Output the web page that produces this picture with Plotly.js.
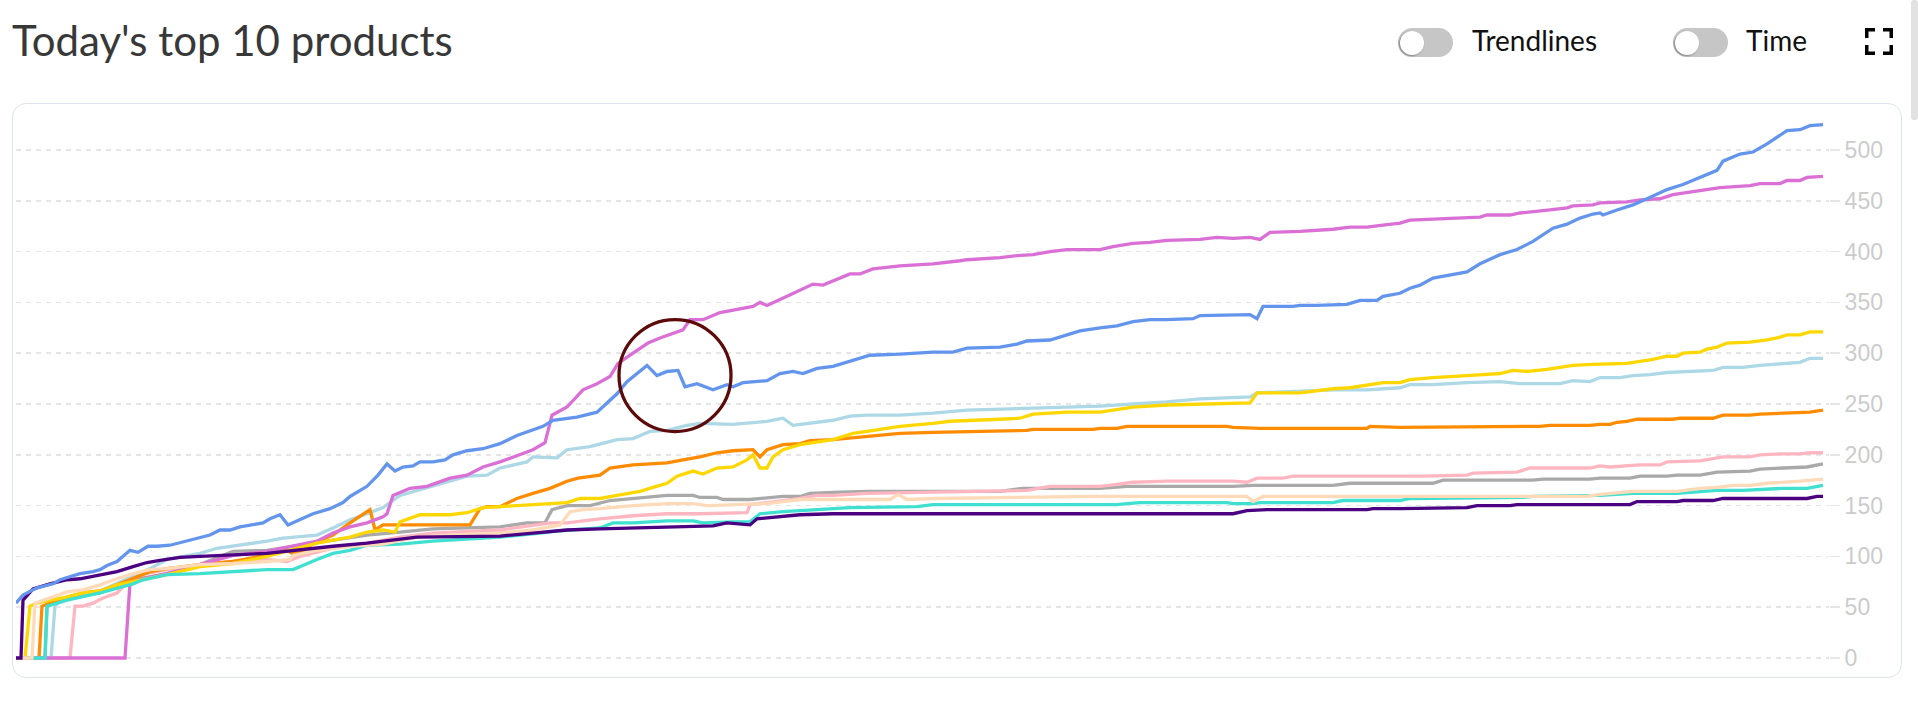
<!DOCTYPE html>
<html>
<head>
<meta charset="utf-8">
<script src="https://cdn.plot.ly/plotly-3.0.1.min.js"></script>
<style>
html,body{margin:0;padding:0;background:#fff;width:1918px;height:719px;overflow:hidden;}
#card{position:absolute;left:12px;top:103px;width:1890px;height:575px;box-sizing:border-box;border:1.5px solid #dde4ee;border-radius:14px;}
#chart{position:absolute;left:0;top:0;width:1918px;height:719px;}
.track{position:absolute;top:28px;width:55px;height:29px;border-radius:15px;background:#c6c6c6;}
.knob{position:absolute;left:2px;top:2.5px;width:24px;height:24px;border-radius:50%;background:#fff;box-shadow:-1px 1px 2px rgba(0,0,0,0.35);}
.lbl{position:absolute;top:26px;font-family:Lato,sans-serif;font-size:28px;line-height:28px;color:#111;white-space:nowrap;}
#scroll{position:absolute;left:1911px;top:0;width:7px;height:120px;background:#e2e2e2;border-radius:3px;}
</style>
</head>
<body>
<div id="card"></div>
<div id="chart"></div>
<div class="track" style="left:1398px"><div class="knob"></div></div>
<div class="lbl" style="left:1472px">Trendlines</div>
<div class="track" style="left:1673px"><div class="knob"></div></div>
<div class="lbl" style="left:1746px">Time</div>
<svg style="position:absolute;left:1863px;top:26px" width="32" height="32" viewBox="0 0 32 32">
  <g fill="none" stroke="#000" stroke-width="3.5" stroke-linecap="butt">
    <path d="M3.75 12 V3.75 H12"/>
    <path d="M20 3.75 H28.25 V12"/>
    <path d="M3.75 19 V27.25 H12"/>
    <path d="M20 27.25 H28.25 V19"/>
  </g>
</svg>
<div id="scroll"></div>
<script>
// ---- data (elapsed time units, cumulative units sold) ----
const yTicks = [0, 50, 100, 150, 200, 250, 300, 350, 400, 450, 500];

const blueT = [0,7,21,37,44,51,64,77,84,91,101,114,122,132,141,154,166,184,194,204,214,224,241,247,254,264,272,284,297,314,327,334,351,362,371,379,387,397,404,417,429,437,451,467,484,501,527,537,561,581,591,601,611,624,631,641,651,662,669,681,697,711,717,727,751,764,777,787,801,817,834,854,884,917,937,951,984,1001,1011,1034,1051,1064,1084,1101,1117,1134,1151,1177,1184,1234,1241,1247,1277,1284,1301,1331,1344,1361,1367,1384,1394,1404,1417,1434,1451,1464,1484,1501,1517,1537,1551,1564,1577,1584,1587,1601,1617,1631,1651,1667,1684,1701,1707,1724,1737,1751,1771,1784,1794,1807];
const blueV = [54,62,69,73,77,79,83,85,87,91,95,106,104,110,110,111,114,119,121,126,126,129,132,133,137,141,131,136,142,147,153,159,169,180,191,184,188,189,193,193,195,200,204,206,211,219,228,234,237,242,251,260,272,282,288,278,282,283,267,270,264,269,267,271,273,280,282,280,285,287,292,298,299,301,301,305,306,309,312,313,318,322,325,327,331,333,333,334,337,338,334,346,346,347,347,348,352,352,356,359,364,367,374,377,380,388,397,402,410,423,427,433,437,438,436,441,446,452,461,466,473,480,489,496,498,506,519,520,524,525];

const orchidT = [0,109,114,127,151,184,201,217,251,267,284,301,317,334,351,367,371,377,394,411,434,451,467,484,517,529,536,551,567,581,594,602,617,632,644,657,667,674,687,704,737,744,751,771,797,807,834,844,857,884,917,944,951,984,1001,1017,1034,1051,1084,1097,1117,1134,1151,1184,1201,1217,1234,1244,1254,1284,1301,1317,1334,1351,1367,1384,1394,1424,1434,1464,1471,1494,1504,1517,1534,1551,1557,1577,1584,1611,1624,1644,1657,1677,1691,1704,1734,1744,1764,1771,1784,1791,1807];
const orchidV = [0,0,74,78,83,92,97,101,105,108,111,115,123,129,133,139,142,160,167,169,177,180,188,193,205,212,239,247,264,270,277,290,300,310,315,320,323,333,333,340,346,350,347,356,368,367,378,378,383,386,388,391,392,394,396,397,400,402,402,405,408,409,411,412,414,413,414,412,419,420,421,422,424,424,426,428,431,432,433,434,436,436,438,439,441,443,445,446,448,449,451,452,456,459,461,463,465,467,467,470,470,473,474];

const goldT = [0,9,14,21,34,51,67,84,101,117,127,151,184,217,251,277,301,317,334,351,367,379,384,404,434,451,461,467,484,517,551,564,584,601,624,637,651,661,677,687,701,717,731,737,744,751,757,767,784,817,837,851,884,917,934,984,1004,1017,1051,1084,1117,1151,1184,1217,1234,1241,1284,1317,1334,1367,1384,1394,1417,1451,1484,1497,1511,1531,1544,1557,1577,1611,1624,1637,1651,1661,1667,1684,1691,1701,1711,1734,1751,1761,1771,1784,1794,1807];
const goldV = [0,0,51,54,57,60,64,66,72,75,77,82,90,93,100,107,113,116,119,124,126,124,134,141,141,143,146,148,149,151,153,157,157,160,164,168,172,179,184,181,187,188,195,200,187,187,198,205,210,215,221,223,228,231,233,235,236,240,242,242,247,249,250,251,251,261,261,265,266,271,271,274,276,278,280,283,282,284,286,288,289,290,292,294,297,297,300,301,304,306,310,311,313,315,318,318,321,321];

const lightblueT = [0,35,39,51,84,117,134,151,167,184,201,217,251,267,301,317,334,351,367,384,401,434,451,471,484,511,517,541,551,574,601,617,634,651,671,684,717,751,767,777,817,834,851,884,917,951,984,1017,1051,1084,1117,1151,1184,1217,1234,1241,1284,1317,1351,1384,1394,1417,1451,1484,1504,1544,1557,1574,1584,1604,1617,1634,1651,1671,1697,1707,1727,1744,1761,1784,1794,1807];
const lightblueV = [0,0,52,59,66,80,88,97,100,103,108,110,115,118,121,128,136,142,148,160,165,174,179,180,187,193,198,197,205,208,215,216,223,224,229,231,230,233,236,229,234,238,239,239,241,244,245,246,247,248,250,252,255,256,257,261,263,264,264,266,269,269,271,272,270,270,273,272,276,276,278,279,281,282,283,286,286,288,289,291,295,295];

const orangeT = [0,23,26,34,51,67,84,101,117,134,151,184,217,234,271,276,287,297,317,334,351,354,359,367,384,417,454,464,471,484,501,517,534,551,562,584,594,617,651,667,684,701,717,737,744,751,767,784,794,817,851,884,917,951,984,1011,1017,1077,1084,1101,1111,1211,1217,1244,1351,1354,1384,1524,1534,1574,1584,1594,1601,1611,1621,1657,1664,1697,1707,1734,1744,1784,1794,1807];
const orangeV = [0,0,51,54,60,64,66,72,78,85,88,92,95,98,106,103,105,113,121,133,144,146,126,131,131,131,131,147,149,149,157,162,167,174,177,180,187,190,192,195,198,202,204,205,198,205,210,211,214,215,218,221,222,223,224,224,225,225,226,226,228,228,227,226,226,228,227,228,229,229,230,230,232,233,235,235,236,236,239,239,240,241,242,244];

const pinkT = [0,54,59,67,77,87,101,111,124,151,184,217,251,271,284,317,351,384,417,484,534,551,584,617,651,684,731,734,751,784,801,817,851,917,984,1011,1034,1084,1101,1117,1151,1217,1231,1241,1267,1277,1384,1407,1451,1457,1501,1514,1574,1584,1594,1614,1624,1644,1651,1684,1697,1707,1734,1744,1767,1784,1794,1807];
const pinkV = [0,0,51,51,54,59,64,74,82,87,92,95,97,95,100,108,113,119,123,126,133,133,137,140,142,142,143,151,153,157,160,160,162,163,164,165,169,169,171,173,174,174,173,177,177,179,179,179,180,182,183,187,187,189,188,189,190,190,193,194,196,198,198,200,201,201,202,202];

const grayT = [0,29,31,51,84,117,151,184,217,251,284,317,351,384,417,484,511,529,536,551,574,594,617,651,677,684,701,707,734,747,767,784,794,817,851,984,1007,1084,1111,1217,1237,1317,1334,1384,1417,1427,1517,1527,1574,1584,1614,1624,1651,1661,1684,1701,1734,1744,1767,1791,1807];
const grayV = [0,0,51,59,64,77,83,92,105,106,111,116,121,124,127,129,133,133,146,150,150,155,157,160,160,158,158,156,156,157,159,159,162,163,164,164,167,167,169,169,170,170,172,172,172,175,175,176,176,177,177,179,179,180,180,183,184,186,187,188,191];

const peachT = [0,16,19,34,51,67,84,101,117,134,151,184,217,251,274,277,301,317,334,367,401,434,484,517,544,554,567,584,617,651,677,691,717,751,784,817,874,882,891,917,984,1017,1077,1217,1231,1237,1247,1317,1384,1451,1571,1584,1617,1661,1684,1701,1717,1734,1751,1784,1807];
const peachV = [0,0,54,59,65,67,72,78,83,87,88,92,93,95,97,101,106,108,110,112,119,121,123,126,131,144,146,147,150,152,152,150,151,152,156,156,156,161,156,157,158,158,159,159,159,154,159,159,159,159,159,161,164,164,167,168,170,170,172,174,176];

const turquoiseT = [0,29,31,51,84,117,127,151,184,217,251,277,284,301,317,334,351,384,417,451,484,524,541,584,597,617,651,677,687,717,734,744,767,801,834,901,917,984,1101,1111,1124,1211,1217,1237,1244,1317,1327,1384,1394,1507,1517,1584,1617,1661,1684,1701,1727,1744,1767,1791,1807];
const turquoiseV = [0,0,51,57,64,73,77,82,83,85,87,87,90,97,103,106,111,112,115,117,119,123,125,128,133,133,135,135,133,134,134,142,144,146,148,149,151,151,151,152,153,153,152,152,153,153,155,155,157,158,159,160,162,162,164,165,165,166,167,167,170];

const indigoT = [0,5,7,17,34,51,64,84,101,117,131,144,164,184,251,317,351,401,484,517,551,584,617,651,697,711,734,741,761,784,817,984,1217,1231,1251,1351,1357,1384,1451,1461,1494,1501,1614,1621,1661,1667,1697,1707,1791,1801,1807];
const indigoV = [0,0,57,68,73,77,78,82,85,90,94,96,99,100,103,110,113,119,120,123,126,127,128,129,130,133,131,137,139,141,142,142,142,145,146,146,147,147,148,150,150,151,151,154,154,155,155,157,157,159,159];

// ---- series (draw order: later ones on top) ----
const series = [
  {name: 'Product 7',  t: grayT,       v: grayV,       color: 'darkgray'},
  {name: 'Product 6',  t: pinkT,       v: pinkV,       color: 'lightpink'},
  {name: 'Product 4',  t: lightblueT,  v: lightblueV,  color: 'lightblue'},
  {name: 'Product 5',  t: orangeT,     v: orangeV,     color: 'darkorange'},
  {name: 'Product 2',  t: orchidT,     v: orchidV,     color: 'orchid'},
  {name: 'Product 3',  t: goldT,       v: goldV,       color: 'gold'},
  {name: 'Product 9',  t: turquoiseT,  v: turquoiseV,  color: 'turquoise'},
  {name: 'Product 8',  t: peachT,      v: peachV,      color: 'peachpuff'},
  {name: 'Product 10', t: indigoT,     v: indigoV,     color: 'indigo'},
  {name: 'Product 1',  t: blueT,       v: blueV,       color: 'cornflowerblue'}
];

const traces = series.map(s => ({
  type: 'scatter', mode: 'lines', name: s.name,
  x: s.t, y: s.v,
  line: {color: s.color, width: 3.3, shape: 'linear'},
  hoverinfo: 'skip'
}));

const layout = {
  width: 1918, height: 719,
  margin: {l: 16, r: 89, t: 110, b: 51, pad: 0},
  paper_bgcolor: 'rgba(0,0,0,0)',
  plot_bgcolor: 'rgba(0,0,0,0)',
  showlegend: false,
  font: {family: 'Lato, sans-serif'},
  title: {
    text: "Today's top 10 products",
    x: 12 / 1918, xref: 'container', xanchor: 'left',
    y: 1 - 27 / 719, yref: 'container', yanchor: 'top',
    font: {family: 'Lato, sans-serif', size: 42, color: '#383838'}
  },
  xaxis: {
    range: [0, 1813], visible: false, fixedrange: true
  },
  yaxis: {
    side: 'right', range: [-9.84, 539.37],
    tickvals: yTicks, ticktext: yTicks.map(String),
    showgrid: true, gridcolor: '#e6e6e6', gridwidth: 1.5, griddash: '5px,5px',
    zeroline: false, showline: false,
    ticks: 'outside', ticklen: 10, tickcolor: '#e6e6e6', tickwidth: 1.5,
    tickfont: {family: 'Liberation Sans, Arial, sans-serif', size: 23, color: '#cccccc'},
    fixedrange: true
  },
  shapes: [{
    type: 'circle', xref: 'x', yref: 'y',
    xsizemode: 'pixel', ysizemode: 'pixel',
    xanchor: 659, yanchor: 278,
    x0: -56, x1: 56, y0: -56, y1: 56,
    line: {color: '#5c0a0a', width: 3.3}
  }]
};

Plotly.newPlot('chart', traces, layout, {staticPlot: true, displayModeBar: false});
</script>
</body>
</html>
